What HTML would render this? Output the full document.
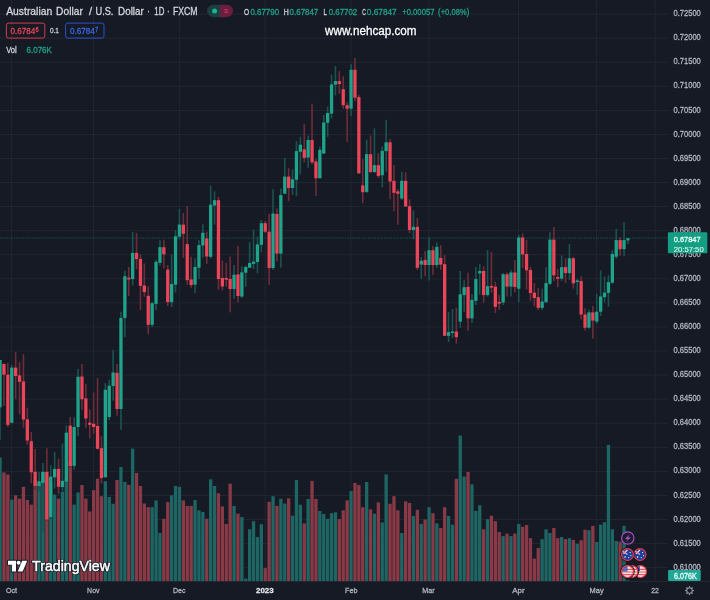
<!DOCTYPE html>
<html lang="en"><head><meta charset="utf-8"><title>AUDUSD 1D FXCM</title>
<style>
html,body{margin:0;padding:0;background:#161a25;}
body{width:710px;height:600px;overflow:hidden;position:relative;font-family:"Liberation Sans",Arial,sans-serif;}
.lay{position:absolute;left:0;top:0;display:block;will-change:transform;}
text{white-space:pre;}
.soft{filter:blur(0.35px);}
</style></head><body>
<svg class="lay soft" width="710" height="600" viewBox="0 0 710 600"><rect x="0" y="13.7" width="668" height="0.8" fill="#242834"/>
<rect x="0" y="37.77" width="668" height="0.8" fill="#242834"/>
<rect x="0" y="61.83" width="668" height="0.8" fill="#242834"/>
<rect x="0" y="85.89" width="668" height="0.8" fill="#242834"/>
<rect x="0" y="109.96" width="668" height="0.8" fill="#242834"/>
<rect x="0" y="134.03" width="668" height="0.8" fill="#242834"/>
<rect x="0" y="158.09" width="668" height="0.8" fill="#242834"/>
<rect x="0" y="182.16" width="668" height="0.8" fill="#242834"/>
<rect x="0" y="206.22" width="668" height="0.8" fill="#242834"/>
<rect x="0" y="230.28" width="668" height="0.8" fill="#242834"/>
<rect x="0" y="254.35" width="668" height="0.8" fill="#242834"/>
<rect x="0" y="278.42" width="668" height="0.8" fill="#242834"/>
<rect x="0" y="302.48" width="668" height="0.8" fill="#242834"/>
<rect x="0" y="326.55" width="668" height="0.8" fill="#242834"/>
<rect x="0" y="350.61" width="668" height="0.8" fill="#242834"/>
<rect x="0" y="374.68" width="668" height="0.8" fill="#242834"/>
<rect x="0" y="398.74" width="668" height="0.8" fill="#242834"/>
<rect x="0" y="422.81" width="668" height="0.8" fill="#242834"/>
<rect x="0" y="446.87" width="668" height="0.8" fill="#242834"/>
<rect x="0" y="470.94" width="668" height="0.8" fill="#242834"/>
<rect x="0" y="495" width="668" height="0.8" fill="#242834"/>
<rect x="0" y="519.07" width="668" height="0.8" fill="#242834"/>
<rect x="0" y="543.13" width="668" height="0.8" fill="#242834"/>
<rect x="0" y="567.2" width="668" height="0.8" fill="#242834"/>
<rect x="11.25" y="0" width="0.8" height="581" fill="#242834"/>
<rect x="93.15" y="0" width="0.8" height="581" fill="#242834"/>
<rect x="178.95" y="0" width="0.8" height="581" fill="#242834"/>
<rect x="264.75" y="0" width="0.8" height="581" fill="#242834"/>
<rect x="350.55" y="0" width="0.8" height="581" fill="#242834"/>
<rect x="428.55" y="0" width="0.8" height="581" fill="#242834"/>
<rect x="518.25" y="0" width="0.8" height="581" fill="#242834"/>
<rect x="596.25" y="0" width="0.8" height="581" fill="#242834"/>
<rect x="654.75" y="0" width="0.8" height="581" fill="#242834"/>
<rect x="0" y="580.9" width="710" height="0.9" fill="#262a35"/>
<g><rect x="-1.6" y="457.5" width="3.3" height="123.5" fill="#1d6663"/><rect x="2.3" y="472.4" width="3.3" height="108.6" fill="#8a3a46"/><rect x="6.2" y="474.5" width="3.3" height="106.5" fill="#8a3a46"/><rect x="10.1" y="499.6" width="3.3" height="81.4" fill="#1d6663"/><rect x="14" y="495.3" width="3.3" height="85.7" fill="#8a3a46"/><rect x="17.9" y="498.7" width="3.3" height="82.3" fill="#8a3a46"/><rect x="21.8" y="486.8" width="3.3" height="94.2" fill="#8a3a46"/><rect x="25.7" y="500" width="3.3" height="81" fill="#8a3a46"/><rect x="29.6" y="504.7" width="3.3" height="76.3" fill="#8a3a46"/><rect x="33.5" y="480" width="3.3" height="101" fill="#8a3a46"/><rect x="37.4" y="484" width="3.3" height="97" fill="#1d6663"/><rect x="41.3" y="472" width="3.3" height="109" fill="#1d6663"/><rect x="45.2" y="478" width="3.3" height="103" fill="#8a3a46"/><rect x="49.1" y="482" width="3.3" height="99" fill="#1d6663"/><rect x="53" y="494.6" width="3.3" height="86.4" fill="#1d6663"/><rect x="56.9" y="498.6" width="3.3" height="82.4" fill="#8a3a46"/><rect x="60.8" y="491.8" width="3.3" height="89.2" fill="#1d6663"/><rect x="64.7" y="478" width="3.3" height="103" fill="#1d6663"/><rect x="68.6" y="462" width="3.3" height="119" fill="#8a3a46"/><rect x="72.5" y="504.7" width="3.3" height="76.3" fill="#1d6663"/><rect x="76.4" y="492.5" width="3.3" height="88.5" fill="#1d6663"/><rect x="80.3" y="485" width="3.3" height="96" fill="#8a3a46"/><rect x="84.2" y="498.7" width="3.3" height="82.3" fill="#8a3a46"/><rect x="88.1" y="511.5" width="3.3" height="69.5" fill="#8a3a46"/><rect x="92" y="490.2" width="3.3" height="90.8" fill="#8a3a46"/><rect x="95.9" y="478.7" width="3.3" height="102.3" fill="#8a3a46"/><rect x="99.8" y="496.2" width="3.3" height="84.8" fill="#8a3a46"/><rect x="103.7" y="481.2" width="3.3" height="99.8" fill="#1d6663"/><rect x="107.6" y="497" width="3.3" height="84" fill="#1d6663"/><rect x="111.5" y="503.8" width="3.3" height="77.2" fill="#1d6663"/><rect x="115.4" y="480" width="3.3" height="101" fill="#8a3a46"/><rect x="119.3" y="467" width="3.3" height="114" fill="#1d6663"/><rect x="123.2" y="482" width="3.3" height="99" fill="#1d6663"/><rect x="127.1" y="484.8" width="3.3" height="96.2" fill="#8a3a46"/><rect x="131" y="448.6" width="3.3" height="132.4" fill="#1d6663"/><rect x="134.9" y="473" width="3.3" height="108" fill="#8a3a46"/><rect x="138.8" y="486" width="3.3" height="95" fill="#8a3a46"/><rect x="142.7" y="503.5" width="3.3" height="77.5" fill="#8a3a46"/><rect x="146.6" y="507.2" width="3.3" height="73.8" fill="#8a3a46"/><rect x="150.5" y="507.2" width="3.3" height="73.8" fill="#1d6663"/><rect x="154.4" y="500.4" width="3.3" height="80.6" fill="#1d6663"/><rect x="158.3" y="533" width="3.3" height="48" fill="#1d6663"/><rect x="162.2" y="518.8" width="3.3" height="62.2" fill="#8a3a46"/><rect x="166.1" y="502.1" width="3.3" height="78.9" fill="#8a3a46"/><rect x="170" y="495.3" width="3.3" height="85.7" fill="#1d6663"/><rect x="173.9" y="486" width="3.3" height="95" fill="#1d6663"/><rect x="177.8" y="486.8" width="3.3" height="94.2" fill="#1d6663"/><rect x="181.7" y="500.4" width="3.3" height="80.6" fill="#8a3a46"/><rect x="185.6" y="505.9" width="3.3" height="75.1" fill="#8a3a46"/><rect x="189.5" y="505.9" width="3.3" height="75.1" fill="#8a3a46"/><rect x="193.4" y="500" width="3.3" height="81" fill="#1d6663"/><rect x="197.3" y="510.3" width="3.3" height="70.7" fill="#1d6663"/><rect x="201.2" y="512" width="3.3" height="69" fill="#1d6663"/><rect x="205.1" y="518.8" width="3.3" height="62.2" fill="#8a3a46"/><rect x="209" y="479.3" width="3.3" height="101.7" fill="#1d6663"/><rect x="212.9" y="486" width="3.3" height="95" fill="#1d6663"/><rect x="216.8" y="493.3" width="3.3" height="87.7" fill="#8a3a46"/><rect x="220.7" y="506.4" width="3.3" height="74.6" fill="#8a3a46"/><rect x="224.6" y="523.9" width="3.3" height="57.1" fill="#8a3a46"/><rect x="228.5" y="483.7" width="3.3" height="97.3" fill="#8a3a46"/><rect x="232.4" y="505.9" width="3.3" height="75.1" fill="#1d6663"/><rect x="236.3" y="513.7" width="3.3" height="67.3" fill="#8a3a46"/><rect x="240.2" y="517.1" width="3.3" height="63.9" fill="#1d6663"/><rect x="244.1" y="578.6" width="3.3" height="2.4" fill="#1d6663"/><rect x="248" y="529.3" width="3.3" height="51.7" fill="#1d6663"/><rect x="251.9" y="521.2" width="3.3" height="59.8" fill="#1d6663"/><rect x="255.8" y="537" width="3.3" height="44" fill="#1d6663"/><rect x="259.7" y="524.2" width="3.3" height="56.8" fill="#1d6663"/><rect x="263.6" y="568.1" width="3.3" height="12.9" fill="#8a3a46"/><rect x="267.5" y="501.8" width="3.3" height="79.2" fill="#8a3a46"/><rect x="271.4" y="496.2" width="3.3" height="84.8" fill="#1d6663"/><rect x="275.3" y="505.9" width="3.3" height="75.1" fill="#8a3a46"/><rect x="279.2" y="498.7" width="3.3" height="82.3" fill="#1d6663"/><rect x="283.1" y="503.5" width="3.3" height="77.5" fill="#1d6663"/><rect x="287" y="498.4" width="3.3" height="82.6" fill="#8a3a46"/><rect x="290.9" y="515.7" width="3.3" height="65.3" fill="#1d6663"/><rect x="294.8" y="480" width="3.3" height="101" fill="#1d6663"/><rect x="298.7" y="504.7" width="3.3" height="76.3" fill="#1d6663"/><rect x="302.6" y="523.4" width="3.3" height="57.6" fill="#8a3a46"/><rect x="306.5" y="499" width="3.3" height="82" fill="#1d6663"/><rect x="310.4" y="480.9" width="3.3" height="100.1" fill="#8a3a46"/><rect x="314.3" y="499" width="3.3" height="82" fill="#8a3a46"/><rect x="318.2" y="511" width="3.3" height="70" fill="#1d6663"/><rect x="322.1" y="514" width="3.3" height="67" fill="#1d6663"/><rect x="326" y="518.8" width="3.3" height="62.2" fill="#1d6663"/><rect x="329.9" y="513.2" width="3.3" height="67.8" fill="#1d6663"/><rect x="333.8" y="512.3" width="3.3" height="68.7" fill="#1d6663"/><rect x="337.7" y="519.1" width="3.3" height="61.9" fill="#8a3a46"/><rect x="341.6" y="510.3" width="3.3" height="70.7" fill="#8a3a46"/><rect x="345.5" y="500.4" width="3.3" height="80.6" fill="#8a3a46"/><rect x="349.4" y="491" width="3.3" height="90" fill="#1d6663"/><rect x="353.3" y="483" width="3.3" height="98" fill="#8a3a46"/><rect x="357.2" y="485.1" width="3.3" height="95.9" fill="#8a3a46"/><rect x="361.1" y="507.2" width="3.3" height="73.8" fill="#8a3a46"/><rect x="365" y="482" width="3.3" height="99" fill="#1d6663"/><rect x="368.9" y="509.3" width="3.3" height="71.7" fill="#8a3a46"/><rect x="372.8" y="513.7" width="3.3" height="67.3" fill="#1d6663"/><rect x="376.7" y="502.4" width="3.3" height="78.6" fill="#8a3a46"/><rect x="380.6" y="522.5" width="3.3" height="58.5" fill="#1d6663"/><rect x="384.5" y="474.4" width="3.3" height="106.6" fill="#1d6663"/><rect x="388.4" y="503.8" width="3.3" height="77.2" fill="#8a3a46"/><rect x="392.3" y="496.2" width="3.3" height="84.8" fill="#8a3a46"/><rect x="396.2" y="510.3" width="3.3" height="70.7" fill="#8a3a46"/><rect x="400.1" y="533" width="3.3" height="48" fill="#1d6663"/><rect x="404" y="501.3" width="3.3" height="79.7" fill="#8a3a46"/><rect x="407.9" y="503" width="3.3" height="78" fill="#8a3a46"/><rect x="411.8" y="516" width="3.3" height="65" fill="#1d6663"/><rect x="415.7" y="509.8" width="3.3" height="71.2" fill="#8a3a46"/><rect x="419.6" y="523.9" width="3.3" height="57.1" fill="#1d6663"/><rect x="423.5" y="519.5" width="3.3" height="61.5" fill="#8a3a46"/><rect x="427.4" y="507.2" width="3.3" height="73.8" fill="#1d6663"/><rect x="431.3" y="513.2" width="3.3" height="67.8" fill="#8a3a46"/><rect x="435.2" y="523.4" width="3.3" height="57.6" fill="#1d6663"/><rect x="439.1" y="528" width="3.3" height="53" fill="#8a3a46"/><rect x="443" y="507.2" width="3.3" height="73.8" fill="#8a3a46"/><rect x="446.9" y="516" width="3.3" height="65" fill="#1d6663"/><rect x="450.8" y="524.6" width="3.3" height="56.4" fill="#1d6663"/><rect x="454.7" y="478.8" width="3.3" height="102.2" fill="#8a3a46"/><rect x="458.6" y="435.5" width="3.3" height="145.5" fill="#1d6663"/><rect x="462.5" y="476.6" width="3.3" height="104.4" fill="#1d6663"/><rect x="466.4" y="472" width="3.3" height="109" fill="#8a3a46"/><rect x="470.3" y="484.3" width="3.3" height="96.7" fill="#1d6663"/><rect x="474.2" y="511" width="3.3" height="70" fill="#1d6663"/><rect x="478.1" y="505.2" width="3.3" height="75.8" fill="#1d6663"/><rect x="482" y="529.3" width="3.3" height="51.7" fill="#8a3a46"/><rect x="485.9" y="519.1" width="3.3" height="61.9" fill="#1d6663"/><rect x="489.8" y="515.7" width="3.3" height="65.3" fill="#8a3a46"/><rect x="493.7" y="521.2" width="3.3" height="59.8" fill="#8a3a46"/><rect x="497.6" y="531.9" width="3.3" height="49.1" fill="#8a3a46"/><rect x="501.5" y="536.1" width="3.3" height="44.9" fill="#1d6663"/><rect x="505.4" y="533.6" width="3.3" height="47.4" fill="#8a3a46"/><rect x="509.3" y="536.1" width="3.3" height="44.9" fill="#1d6663"/><rect x="513.2" y="533.6" width="3.3" height="47.4" fill="#8a3a46"/><rect x="517.1" y="523.9" width="3.3" height="57.1" fill="#1d6663"/><rect x="521" y="526.8" width="3.3" height="54.2" fill="#8a3a46"/><rect x="524.9" y="525" width="3.3" height="56" fill="#8a3a46"/><rect x="528.8" y="538.2" width="3.3" height="42.8" fill="#8a3a46"/><rect x="532.7" y="558.6" width="3.3" height="22.4" fill="#8a3a46"/><rect x="536.6" y="548" width="3.3" height="33" fill="#8a3a46"/><rect x="540.5" y="539.2" width="3.3" height="41.8" fill="#1d6663"/><rect x="544.4" y="529.3" width="3.3" height="51.7" fill="#1d6663"/><rect x="548.3" y="533" width="3.3" height="48" fill="#1d6663"/><rect x="552.2" y="528" width="3.3" height="53" fill="#8a3a46"/><rect x="556.1" y="538.2" width="3.3" height="42.8" fill="#8a3a46"/><rect x="560" y="537" width="3.3" height="44" fill="#1d6663"/><rect x="563.9" y="539.2" width="3.3" height="41.8" fill="#8a3a46"/><rect x="567.8" y="538.2" width="3.3" height="42.8" fill="#1d6663"/><rect x="571.7" y="539.9" width="3.3" height="41.1" fill="#8a3a46"/><rect x="575.6" y="543.8" width="3.3" height="37.2" fill="#1d6663"/><rect x="579.5" y="540.2" width="3.3" height="40.8" fill="#8a3a46"/><rect x="583.4" y="529.7" width="3.3" height="51.3" fill="#8a3a46"/><rect x="587.3" y="530.2" width="3.3" height="50.8" fill="#1d6663"/><rect x="591.2" y="525.9" width="3.3" height="55.1" fill="#8a3a46"/><rect x="595.1" y="542" width="3.3" height="39" fill="#1d6663"/><rect x="599" y="524.6" width="3.3" height="56.4" fill="#1d6663"/><rect x="602.9" y="522.2" width="3.3" height="58.8" fill="#1d6663"/><rect x="606.8" y="444.9" width="3.3" height="136.1" fill="#1d6663"/><rect x="610.7" y="529.3" width="3.3" height="51.7" fill="#1d6663"/><rect x="614.6" y="540.9" width="3.3" height="40.1" fill="#1d6663"/><rect x="618.5" y="541.6" width="3.3" height="39.4" fill="#8a3a46"/><rect x="622.4" y="525.9" width="3.3" height="55.1" fill="#1d6663"/><rect x="626.3" y="580.3" width="3.3" height="0.7" fill="#1d6663"/></g>
<line x1="0" y1="238" x2="668" y2="238" stroke="#1fa38b" stroke-width="0.9" stroke-dasharray="0.75 1.02" opacity="0.6"/>
<g><rect x="-0.75" y="359.8" width="1.6" height="80" fill="#1a5450"/><rect x="3.15" y="363.4" width="1.6" height="42.5" fill="#6f2c3a"/><rect x="7.05" y="362.7" width="1.6" height="64.3" fill="#6f2c3a"/><rect x="10.95" y="364.8" width="1.6" height="58.7" fill="#1a5450"/><rect x="14.85" y="352" width="1.6" height="46.8" fill="#6f2c3a"/><rect x="18.75" y="362" width="1.6" height="52.4" fill="#6f2c3a"/><rect x="22.65" y="354.2" width="1.6" height="73.5" fill="#6f2c3a"/><rect x="26.55" y="407.7" width="1.6" height="37" fill="#6f2c3a"/><rect x="30.45" y="432" width="1.6" height="51.2" fill="#6f2c3a"/><rect x="34.35" y="449" width="1.6" height="41" fill="#6f2c3a"/><rect x="38.25" y="471.9" width="1.6" height="20.1" fill="#1a5450"/><rect x="42.15" y="463" width="1.6" height="69.7" fill="#1a5450"/><rect x="46.05" y="448.3" width="1.6" height="72.7" fill="#6f2c3a"/><rect x="49.95" y="465.3" width="1.6" height="53.7" fill="#1a5450"/><rect x="53.85" y="451.8" width="1.6" height="36.8" fill="#1a5450"/><rect x="57.75" y="458.8" width="1.6" height="35.5" fill="#6f2c3a"/><rect x="61.65" y="443.3" width="1.6" height="48.2" fill="#1a5450"/><rect x="65.55" y="425.6" width="1.6" height="57.4" fill="#1a5450"/><rect x="69.45" y="416.9" width="1.6" height="51.1" fill="#6f2c3a"/><rect x="73.35" y="417.2" width="1.6" height="52.4" fill="#1a5450"/><rect x="77.25" y="369" width="1.6" height="67.2" fill="#1a5450"/><rect x="81.15" y="364.1" width="1.6" height="46" fill="#6f2c3a"/><rect x="85.05" y="383.9" width="1.6" height="43.8" fill="#6f2c3a"/><rect x="88.95" y="409.4" width="1.6" height="29" fill="#6f2c3a"/><rect x="92.85" y="392.4" width="1.6" height="41.6" fill="#6f2c3a"/><rect x="96.75" y="378.1" width="1.6" height="71.4" fill="#6f2c3a"/><rect x="100.65" y="436.2" width="1.6" height="47.4" fill="#6f2c3a"/><rect x="104.55" y="383.1" width="1.6" height="94.9" fill="#1a5450"/><rect x="108.45" y="379.6" width="1.6" height="40.3" fill="#1a5450"/><rect x="112.35" y="349.8" width="1.6" height="51" fill="#1a5450"/><rect x="116.25" y="364" width="1.6" height="51.6" fill="#6f2c3a"/><rect x="120.15" y="311.7" width="1.6" height="118.1" fill="#1a5450"/><rect x="124.05" y="270.6" width="1.6" height="66.5" fill="#1a5450"/><rect x="127.95" y="267" width="1.6" height="29.1" fill="#6f2c3a"/><rect x="131.85" y="231.7" width="1.6" height="53.8" fill="#1a5450"/><rect x="135.75" y="233.1" width="1.6" height="36.1" fill="#6f2c3a"/><rect x="139.65" y="254.3" width="1.6" height="55.9" fill="#6f2c3a"/><rect x="143.55" y="263.5" width="1.6" height="33.3" fill="#6f2c3a"/><rect x="147.45" y="286.2" width="1.6" height="48.1" fill="#6f2c3a"/><rect x="151.35" y="301.7" width="1.6" height="25.5" fill="#1a5450"/><rect x="155.25" y="260" width="1.6" height="50.2" fill="#1a5450"/><rect x="159.15" y="240.2" width="1.6" height="25.4" fill="#1a5450"/><rect x="163.05" y="240.2" width="1.6" height="28.3" fill="#6f2c3a"/><rect x="166.95" y="264.9" width="1.6" height="41.1" fill="#6f2c3a"/><rect x="170.85" y="254.3" width="1.6" height="52.8" fill="#1a5450"/><rect x="174.75" y="230.2" width="1.6" height="62.3" fill="#1a5450"/><rect x="178.65" y="209" width="1.6" height="30.4" fill="#1a5450"/><rect x="182.55" y="213" width="1.6" height="44.8" fill="#6f2c3a"/><rect x="186.45" y="206.2" width="1.6" height="78.5" fill="#6f2c3a"/><rect x="190.35" y="256.8" width="1.6" height="31.1" fill="#6f2c3a"/><rect x="194.25" y="258.2" width="1.6" height="35" fill="#1a5450"/><rect x="198.15" y="240.2" width="1.6" height="38.9" fill="#1a5450"/><rect x="202.05" y="224.3" width="1.6" height="33.5" fill="#1a5450"/><rect x="205.95" y="231.7" width="1.6" height="32.1" fill="#6f2c3a"/><rect x="209.85" y="185.6" width="1.6" height="72.9" fill="#1a5450"/><rect x="213.75" y="191.3" width="1.6" height="33.3" fill="#1a5450"/><rect x="217.65" y="197" width="1.6" height="92.7" fill="#6f2c3a"/><rect x="221.55" y="260.6" width="1.6" height="29.8" fill="#6f2c3a"/><rect x="225.45" y="262.7" width="1.6" height="24.1" fill="#6f2c3a"/><rect x="229.35" y="256.4" width="1.6" height="55.9" fill="#6f2c3a"/><rect x="233.25" y="264.9" width="1.6" height="34" fill="#1a5450"/><rect x="237.15" y="245.8" width="1.6" height="56.6" fill="#6f2c3a"/><rect x="241.05" y="266.3" width="1.6" height="31.6" fill="#1a5450"/><rect x="244.95" y="265.6" width="1.6" height="21.2" fill="#1a5450"/><rect x="248.85" y="241.9" width="1.6" height="26.1" fill="#1a5450"/><rect x="252.75" y="229.5" width="1.6" height="39.6" fill="#1a5450"/><rect x="256.65" y="236.6" width="1.6" height="36.8" fill="#1a5450"/><rect x="260.55" y="220" width="1.6" height="32.2" fill="#1a5450"/><rect x="264.45" y="221" width="1.6" height="12" fill="#6f2c3a"/><rect x="268.35" y="214" width="1.6" height="70.7" fill="#6f2c3a"/><rect x="272.25" y="189.2" width="1.6" height="80.6" fill="#1a5450"/><rect x="276.15" y="208.3" width="1.6" height="53" fill="#6f2c3a"/><rect x="280.05" y="188.5" width="1.6" height="79.2" fill="#1a5450"/><rect x="283.95" y="158.2" width="1.6" height="35.8" fill="#1a5450"/><rect x="287.85" y="168.1" width="1.6" height="33.1" fill="#6f2c3a"/><rect x="291.75" y="169.5" width="1.6" height="25.3" fill="#1a5450"/><rect x="295.65" y="141.2" width="1.6" height="55" fill="#1a5450"/><rect x="299.55" y="136.9" width="1.6" height="37.5" fill="#1a5450"/><rect x="303.45" y="124.2" width="1.6" height="38.2" fill="#6f2c3a"/><rect x="307.35" y="135.5" width="1.6" height="32.3" fill="#1a5450"/><rect x="311.25" y="103.8" width="1.6" height="60.7" fill="#6f2c3a"/><rect x="315.15" y="158.9" width="1.6" height="37" fill="#6f2c3a"/><rect x="319.05" y="146.5" width="1.6" height="32.1" fill="#1a5450"/><rect x="322.95" y="115" width="1.6" height="39" fill="#1a5450"/><rect x="326.85" y="106.6" width="1.6" height="30.3" fill="#1a5450"/><rect x="330.75" y="74.7" width="1.6" height="43.8" fill="#1a5450"/><rect x="334.65" y="66" width="1.6" height="29.3" fill="#1a5450"/><rect x="338.55" y="71.2" width="1.6" height="22.7" fill="#6f2c3a"/><rect x="342.45" y="76.2" width="1.6" height="32.5" fill="#6f2c3a"/><rect x="346.35" y="102.4" width="1.6" height="39.5" fill="#6f2c3a"/><rect x="350.25" y="64.1" width="1.6" height="51.9" fill="#1a5450"/><rect x="354.15" y="58" width="1.6" height="43" fill="#6f2c3a"/><rect x="358.05" y="94.6" width="1.6" height="79.4" fill="#6f2c3a"/><rect x="361.95" y="159" width="1.6" height="44.3" fill="#6f2c3a"/><rect x="365.85" y="139.7" width="1.6" height="53.3" fill="#1a5450"/><rect x="369.75" y="135.5" width="1.6" height="37.5" fill="#6f2c3a"/><rect x="373.65" y="128.4" width="1.6" height="44.6" fill="#1a5450"/><rect x="377.55" y="153.2" width="1.6" height="24.8" fill="#6f2c3a"/><rect x="381.45" y="146.5" width="1.6" height="40.7" fill="#1a5450"/><rect x="385.35" y="119.9" width="1.6" height="51.7" fill="#1a5450"/><rect x="389.25" y="139" width="1.6" height="60.2" fill="#6f2c3a"/><rect x="393.15" y="165" width="1.6" height="46.2" fill="#6f2c3a"/><rect x="397.05" y="189.2" width="1.6" height="35.5" fill="#6f2c3a"/><rect x="400.95" y="172" width="1.6" height="27.9" fill="#1a5450"/><rect x="404.85" y="172.3" width="1.6" height="34.7" fill="#6f2c3a"/><rect x="408.75" y="199.2" width="1.6" height="34" fill="#6f2c3a"/><rect x="412.65" y="210.2" width="1.6" height="28.9" fill="#1a5450"/><rect x="416.55" y="218.3" width="1.6" height="51.6" fill="#6f2c3a"/><rect x="420.45" y="257.2" width="1.6" height="21.9" fill="#1a5450"/><rect x="424.35" y="250.9" width="1.6" height="25.4" fill="#6f2c3a"/><rect x="428.25" y="237.4" width="1.6" height="43.1" fill="#1a5450"/><rect x="432.15" y="245.9" width="1.6" height="29" fill="#6f2c3a"/><rect x="436.05" y="242.4" width="1.6" height="25.4" fill="#1a5450"/><rect x="439.95" y="245.2" width="1.6" height="24.7" fill="#6f2c3a"/><rect x="443.85" y="255.1" width="1.6" height="80.9" fill="#6f2c3a"/><rect x="447.75" y="312.1" width="1.6" height="30.1" fill="#1a5450"/><rect x="451.65" y="308.9" width="1.6" height="29" fill="#1a5450"/><rect x="455.55" y="307.9" width="1.6" height="35.7" fill="#6f2c3a"/><rect x="459.45" y="271" width="1.6" height="56.7" fill="#1a5450"/><rect x="463.35" y="280.1" width="1.6" height="31.6" fill="#1a5450"/><rect x="467.25" y="272.7" width="1.6" height="58.1" fill="#6f2c3a"/><rect x="471.15" y="294" width="1.6" height="29" fill="#1a5450"/><rect x="475.05" y="267.1" width="1.6" height="37.9" fill="#1a5450"/><rect x="478.95" y="264.2" width="1.6" height="30.5" fill="#1a5450"/><rect x="482.85" y="266.2" width="1.6" height="36.3" fill="#6f2c3a"/><rect x="486.75" y="250.2" width="1.6" height="46.4" fill="#1a5450"/><rect x="490.65" y="251.9" width="1.6" height="40.9" fill="#6f2c3a"/><rect x="494.55" y="281.6" width="1.6" height="31.4" fill="#6f2c3a"/><rect x="498.45" y="295.1" width="1.6" height="14.9" fill="#6f2c3a"/><rect x="502.35" y="273" width="1.6" height="32" fill="#1a5450"/><rect x="506.25" y="272.5" width="1.6" height="24" fill="#6f2c3a"/><rect x="510.15" y="270" width="1.6" height="26.5" fill="#1a5450"/><rect x="514.05" y="260.1" width="1.6" height="32.2" fill="#6f2c3a"/><rect x="517.95" y="234.9" width="1.6" height="67.3" fill="#1a5450"/><rect x="521.85" y="233.5" width="1.6" height="34.7" fill="#6f2c3a"/><rect x="525.75" y="239.9" width="1.6" height="49.5" fill="#6f2c3a"/><rect x="529.65" y="266.8" width="1.6" height="34" fill="#6f2c3a"/><rect x="533.55" y="283.1" width="1.6" height="23.3" fill="#6f2c3a"/><rect x="537.45" y="288" width="1.6" height="22" fill="#6f2c3a"/><rect x="541.35" y="288.7" width="1.6" height="21.3" fill="#1a5450"/><rect x="545.25" y="267.2" width="1.6" height="35.8" fill="#1a5450"/><rect x="549.15" y="232.1" width="1.6" height="53.1" fill="#1a5450"/><rect x="553.05" y="227.1" width="1.6" height="53.9" fill="#6f2c3a"/><rect x="556.95" y="268.9" width="1.6" height="18.4" fill="#6f2c3a"/><rect x="560.85" y="255.5" width="1.6" height="25.5" fill="#1a5450"/><rect x="564.75" y="258.3" width="1.6" height="24.7" fill="#6f2c3a"/><rect x="568.65" y="244.1" width="1.6" height="35.8" fill="#1a5450"/><rect x="572.55" y="256.9" width="1.6" height="31.6" fill="#6f2c3a"/><rect x="576.45" y="278.6" width="1.6" height="16.3" fill="#1a5450"/><rect x="580.35" y="276.3" width="1.6" height="43.2" fill="#6f2c3a"/><rect x="584.25" y="308.2" width="1.6" height="22.3" fill="#6f2c3a"/><rect x="588.15" y="309.6" width="1.6" height="19.1" fill="#1a5450"/><rect x="592.05" y="306" width="1.6" height="32.6" fill="#6f2c3a"/><rect x="595.95" y="293.7" width="1.6" height="30" fill="#1a5450"/><rect x="599.85" y="270.4" width="1.6" height="45.6" fill="#1a5450"/><rect x="603.75" y="276.6" width="1.6" height="25.9" fill="#1a5450"/><rect x="607.65" y="275.2" width="1.6" height="31.5" fill="#1a5450"/><rect x="611.55" y="250.3" width="1.6" height="33.7" fill="#1a5450"/><rect x="615.45" y="228.8" width="1.6" height="30" fill="#1a5450"/><rect x="619.35" y="237.3" width="1.6" height="18.4" fill="#6f2c3a"/><rect x="623.25" y="222" width="1.6" height="34.3" fill="#1a5450"/><rect x="627.15" y="238" width="1.6" height="6" fill="#1a5450"/></g>
<g><rect x="-1.6" y="360" width="3.3" height="47.3" fill="#1fa38b"/><rect x="2.3" y="364" width="3.3" height="10.7" fill="#ea4558"/><rect x="6.2" y="374.7" width="3.3" height="50.2" fill="#ea4558"/><rect x="10.1" y="367.6" width="3.3" height="55.2" fill="#1fa38b"/><rect x="14" y="367.6" width="3.3" height="8.5" fill="#ea4558"/><rect x="17.9" y="375.4" width="3.3" height="6.4" fill="#ea4558"/><rect x="21.8" y="381.5" width="3.3" height="38" fill="#ea4558"/><rect x="25.7" y="419.3" width="3.3" height="21.2" fill="#ea4558"/><rect x="29.6" y="441.2" width="3.3" height="31.1" fill="#ea4558"/><rect x="33.5" y="471.8" width="3.3" height="14.1" fill="#ea4558"/><rect x="37.4" y="481.2" width="3.3" height="4.7" fill="#1fa38b"/><rect x="41.3" y="471.9" width="3.3" height="11" fill="#1fa38b"/><rect x="45.2" y="471.8" width="3.3" height="47.7" fill="#ea4558"/><rect x="49.1" y="476.6" width="3.3" height="40.4" fill="#1fa38b"/><rect x="53" y="468.9" width="3.3" height="8.4" fill="#1fa38b"/><rect x="56.9" y="468.9" width="3.3" height="17.9" fill="#ea4558"/><rect x="60.8" y="480.8" width="3.3" height="6.3" fill="#1fa38b"/><rect x="64.7" y="432.7" width="3.3" height="49.1" fill="#1fa38b"/><rect x="68.6" y="425.6" width="3.3" height="40.4" fill="#ea4558"/><rect x="72.5" y="427" width="3.3" height="38.8" fill="#1fa38b"/><rect x="76.4" y="376.8" width="3.3" height="50.2" fill="#1fa38b"/><rect x="80.3" y="376.5" width="3.3" height="22.7" fill="#ea4558"/><rect x="84.2" y="398.4" width="3.3" height="20.1" fill="#ea4558"/><rect x="88.1" y="422.7" width="3.3" height="2.1" fill="#ea4558"/><rect x="92" y="423.8" width="3.3" height="3.2" fill="#ea4558"/><rect x="95.9" y="426" width="3.3" height="22.8" fill="#ea4558"/><rect x="99.8" y="448.2" width="3.3" height="29.8" fill="#ea4558"/><rect x="103.7" y="389.8" width="3.3" height="87.4" fill="#1fa38b"/><rect x="107.6" y="385.7" width="3.3" height="31.3" fill="#1fa38b"/><rect x="111.5" y="372.5" width="3.3" height="13.5" fill="#1fa38b"/><rect x="115.4" y="372.9" width="3.3" height="36.1" fill="#ea4558"/><rect x="119.3" y="318" width="3.3" height="91" fill="#1fa38b"/><rect x="123.2" y="276.2" width="3.3" height="41.8" fill="#1fa38b"/><rect x="127.1" y="277.7" width="3.3" height="1.7" fill="#ea4558"/><rect x="131" y="252.9" width="3.3" height="26.2" fill="#1fa38b"/><rect x="134.9" y="252.9" width="3.3" height="6.1" fill="#ea4558"/><rect x="138.8" y="258.9" width="3.3" height="27" fill="#ea4558"/><rect x="142.7" y="285.5" width="3.3" height="6.6" fill="#ea4558"/><rect x="146.6" y="295.8" width="3.3" height="29" fill="#ea4558"/><rect x="150.5" y="303.2" width="3.3" height="21.6" fill="#1fa38b"/><rect x="154.4" y="261.8" width="3.3" height="42.1" fill="#1fa38b"/><rect x="158.3" y="247.2" width="3.3" height="15.6" fill="#1fa38b"/><rect x="162.2" y="247.2" width="3.3" height="7.1" fill="#ea4558"/><rect x="166.1" y="269.6" width="3.3" height="32.6" fill="#ea4558"/><rect x="170" y="284" width="3.3" height="18.2" fill="#1fa38b"/><rect x="173.9" y="236.2" width="3.3" height="48.5" fill="#1fa38b"/><rect x="177.8" y="224.6" width="3.3" height="12" fill="#1fa38b"/><rect x="181.7" y="224.6" width="3.3" height="9.2" fill="#ea4558"/><rect x="185.6" y="244.1" width="3.3" height="36.1" fill="#ea4558"/><rect x="189.5" y="279.4" width="3.3" height="5.6" fill="#ea4558"/><rect x="193.4" y="267" width="3.3" height="17.7" fill="#1fa38b"/><rect x="197.3" y="245.1" width="3.3" height="22.6" fill="#1fa38b"/><rect x="201.2" y="232.8" width="3.3" height="12.7" fill="#1fa38b"/><rect x="205.1" y="238.5" width="3.3" height="18" fill="#ea4558"/><rect x="209" y="204.7" width="3.3" height="52.1" fill="#1fa38b"/><rect x="212.9" y="200.2" width="3.3" height="5.3" fill="#1fa38b"/><rect x="216.8" y="200.2" width="3.3" height="78.8" fill="#ea4558"/><rect x="220.7" y="278" width="3.3" height="8.5" fill="#ea4558"/><rect x="224.6" y="278" width="3.3" height="1.7" fill="#ea4558"/><rect x="228.5" y="279" width="3.3" height="10" fill="#ea4558"/><rect x="232.4" y="274.8" width="3.3" height="14.2" fill="#1fa38b"/><rect x="236.3" y="274.4" width="3.3" height="21.6" fill="#ea4558"/><rect x="240.2" y="272.4" width="3.3" height="24.1" fill="#1fa38b"/><rect x="244.1" y="267" width="3.3" height="5.7" fill="#1fa38b"/><rect x="248" y="263" width="3.3" height="4.7" fill="#1fa38b"/><rect x="251.9" y="261.6" width="3.3" height="2.3" fill="#1fa38b"/><rect x="255.8" y="244.4" width="3.3" height="17.6" fill="#1fa38b"/><rect x="259.7" y="223.2" width="3.3" height="21.6" fill="#1fa38b"/><rect x="263.6" y="223.2" width="3.3" height="8.5" fill="#ea4558"/><rect x="267.5" y="231.7" width="3.3" height="36.3" fill="#ea4558"/><rect x="271.4" y="213.5" width="3.3" height="54.5" fill="#1fa38b"/><rect x="275.3" y="214" width="3.3" height="39.6" fill="#ea4558"/><rect x="279.2" y="195.1" width="3.3" height="58.5" fill="#1fa38b"/><rect x="283.1" y="176.6" width="3.3" height="17.1" fill="#1fa38b"/><rect x="287" y="176.6" width="3.3" height="11.4" fill="#ea4558"/><rect x="290.9" y="179.4" width="3.3" height="8.6" fill="#1fa38b"/><rect x="294.8" y="151.1" width="3.3" height="28.6" fill="#1fa38b"/><rect x="298.7" y="144.7" width="3.3" height="7.1" fill="#1fa38b"/><rect x="302.6" y="149.4" width="3.3" height="8.5" fill="#ea4558"/><rect x="306.5" y="140" width="3.3" height="17.5" fill="#1fa38b"/><rect x="310.4" y="140" width="3.3" height="22.4" fill="#ea4558"/><rect x="314.3" y="161.5" width="3.3" height="16.7" fill="#ea4558"/><rect x="318.2" y="149.9" width="3.3" height="28.3" fill="#1fa38b"/><rect x="322.1" y="122.5" width="3.3" height="31.1" fill="#1fa38b"/><rect x="326" y="113" width="3.3" height="9.8" fill="#1fa38b"/><rect x="329.9" y="84.4" width="3.3" height="29.2" fill="#1fa38b"/><rect x="333.8" y="81.1" width="3.3" height="3.6" fill="#1fa38b"/><rect x="337.7" y="81.1" width="3.3" height="2.9" fill="#ea4558"/><rect x="341.6" y="89.2" width="3.3" height="16" fill="#ea4558"/><rect x="345.5" y="105.2" width="3.3" height="3.5" fill="#ea4558"/><rect x="349.4" y="69.8" width="3.3" height="38.9" fill="#1fa38b"/><rect x="353.3" y="69.8" width="3.3" height="27.9" fill="#ea4558"/><rect x="357.2" y="97.1" width="3.3" height="76.2" fill="#ea4558"/><rect x="361.1" y="185.4" width="3.3" height="6.8" fill="#ea4558"/><rect x="365" y="154.1" width="3.3" height="37.8" fill="#1fa38b"/><rect x="368.9" y="154.2" width="3.3" height="17.8" fill="#ea4558"/><rect x="372.8" y="165.2" width="3.3" height="6.8" fill="#1fa38b"/><rect x="376.7" y="165.2" width="3.3" height="10.7" fill="#ea4558"/><rect x="380.6" y="150.8" width="3.3" height="24.4" fill="#1fa38b"/><rect x="384.5" y="142.3" width="3.3" height="8.8" fill="#1fa38b"/><rect x="388.4" y="142.3" width="3.3" height="39.2" fill="#ea4558"/><rect x="392.3" y="180.8" width="3.3" height="12" fill="#ea4558"/><rect x="396.2" y="191.4" width="3.3" height="2.4" fill="#ea4558"/><rect x="400.1" y="180.8" width="3.3" height="17.7" fill="#1fa38b"/><rect x="404" y="180.8" width="3.3" height="25.7" fill="#ea4558"/><rect x="407.9" y="206.2" width="3.3" height="23.8" fill="#ea4558"/><rect x="411.8" y="226.8" width="3.3" height="3.2" fill="#1fa38b"/><rect x="415.7" y="226.8" width="3.3" height="41" fill="#ea4558"/><rect x="419.6" y="260.8" width="3.3" height="3.8" fill="#1fa38b"/><rect x="423.5" y="260" width="3.3" height="5" fill="#ea4558"/><rect x="427.4" y="250.2" width="3.3" height="14.8" fill="#1fa38b"/><rect x="431.3" y="250.2" width="3.3" height="14.8" fill="#ea4558"/><rect x="435.2" y="246.9" width="3.3" height="18.1" fill="#1fa38b"/><rect x="439.1" y="257.9" width="3.3" height="6.7" fill="#ea4558"/><rect x="443" y="264.2" width="3.3" height="71.6" fill="#ea4558"/><rect x="446.9" y="332.2" width="3.3" height="3.6" fill="#1fa38b"/><rect x="450.8" y="331.5" width="3.3" height="1.5" fill="#1fa38b"/><rect x="454.7" y="331.5" width="3.3" height="5.7" fill="#ea4558"/><rect x="458.6" y="294.3" width="3.3" height="27.3" fill="#1fa38b"/><rect x="462.5" y="287.2" width="3.3" height="7.9" fill="#1fa38b"/><rect x="466.4" y="286.9" width="3.3" height="31.5" fill="#ea4558"/><rect x="470.3" y="299.9" width="3.3" height="18.5" fill="#1fa38b"/><rect x="474.2" y="279.1" width="3.3" height="21.7" fill="#1fa38b"/><rect x="478.1" y="271" width="3.3" height="2.4" fill="#1fa38b"/><rect x="482" y="271" width="3.3" height="24.1" fill="#ea4558"/><rect x="485.9" y="286.2" width="3.3" height="8.9" fill="#1fa38b"/><rect x="489.8" y="285.9" width="3.3" height="1.7" fill="#ea4558"/><rect x="493.7" y="286.7" width="3.3" height="20.1" fill="#ea4558"/><rect x="497.6" y="301.9" width="3.3" height="1.7" fill="#ea4558"/><rect x="501.5" y="274.3" width="3.3" height="28.3" fill="#1fa38b"/><rect x="505.4" y="274.3" width="3.3" height="12.3" fill="#ea4558"/><rect x="509.3" y="272.5" width="3.3" height="14.1" fill="#1fa38b"/><rect x="513.2" y="272.5" width="3.3" height="14.5" fill="#ea4558"/><rect x="517.1" y="237.5" width="3.3" height="51.2" fill="#1fa38b"/><rect x="521" y="237.5" width="3.3" height="17" fill="#ea4558"/><rect x="524.9" y="254" width="3.3" height="16.3" fill="#ea4558"/><rect x="528.8" y="270" width="3.3" height="23" fill="#ea4558"/><rect x="532.7" y="292.7" width="3.3" height="5.3" fill="#ea4558"/><rect x="536.6" y="297.2" width="3.3" height="10.7" fill="#ea4558"/><rect x="540.5" y="301.5" width="3.3" height="6.4" fill="#1fa38b"/><rect x="544.4" y="283.1" width="3.3" height="19.1" fill="#1fa38b"/><rect x="548.3" y="239.6" width="3.3" height="44.2" fill="#1fa38b"/><rect x="552.2" y="239.6" width="3.3" height="35.7" fill="#ea4558"/><rect x="556.1" y="277.1" width="3.3" height="1.7" fill="#ea4558"/><rect x="560" y="267.2" width="3.3" height="11.4" fill="#1fa38b"/><rect x="563.9" y="267.1" width="3.3" height="6" fill="#ea4558"/><rect x="567.8" y="258.3" width="3.3" height="14.8" fill="#1fa38b"/><rect x="571.7" y="258.3" width="3.3" height="25.1" fill="#ea4558"/><rect x="575.6" y="280.4" width="3.3" height="1.6" fill="#1fa38b"/><rect x="579.5" y="281" width="3.3" height="33.5" fill="#ea4558"/><rect x="583.4" y="314.5" width="3.3" height="13.2" fill="#ea4558"/><rect x="587.3" y="312.4" width="3.3" height="15.3" fill="#1fa38b"/><rect x="591.2" y="312.4" width="3.3" height="8.2" fill="#ea4558"/><rect x="595.1" y="311.7" width="3.3" height="9.9" fill="#1fa38b"/><rect x="599" y="296.5" width="3.3" height="15.2" fill="#1fa38b"/><rect x="602.9" y="292.6" width="3.3" height="4.5" fill="#1fa38b"/><rect x="606.8" y="282.1" width="3.3" height="10.8" fill="#1fa38b"/><rect x="610.7" y="253.9" width="3.3" height="28.7" fill="#1fa38b"/><rect x="614.6" y="240.1" width="3.3" height="16.6" fill="#1fa38b"/><rect x="618.5" y="240.1" width="3.3" height="9.1" fill="#ea4558"/><rect x="622.4" y="240.1" width="3.3" height="9.1" fill="#1fa38b"/><rect x="626.3" y="238.2" width="3.3" height="2.2" fill="#1fa38b"/></g></svg>
<svg class="lay" width="710" height="600" viewBox="0 0 710 600" font-family="Liberation Sans, Arial, sans-serif">
<!-- status pill -->
<path d="M213.35 4.7 H220 V17.2 H213.35 A6.25 6.25 0 0 1 213.35 4.7Z" fill="#1b3f41"/>
<path d="M220 4.7 H226.75 A6.25 6.25 0 0 1 226.75 17.2 H220Z" fill="#6a1f3e"/>
<circle cx="214.6" cy="11" r="2.5" fill="#20b08f"/>
<path d="M224.4 9.9 H228.2 M224.4 12.2 H228.2" stroke="#e8336d" stroke-width="1" fill="none"/>
<!-- badges -->
<rect x="6.4" y="23.1" width="38.4" height="15" rx="2.2" fill="none" stroke="#d93a48" stroke-width="1"/>
<rect x="65.6" y="23.1" width="38.4" height="15" rx="2.2" fill="none" stroke="#2a52cf" stroke-width="1"/>
<text x="6.2" y="15" font-size="10.9" textLength="46" lengthAdjust="spacingAndGlyphs" fill="#d4d6dd" stroke="#d4d6dd" stroke-width="0.3">Australian</text>
<text x="56.1" y="15" font-size="10.9" textLength="26.7" lengthAdjust="spacingAndGlyphs" fill="#d4d6dd" stroke="#d4d6dd" stroke-width="0.3">Dollar</text>
<text x="88.9" y="15" font-size="10.9" textLength="3.1" lengthAdjust="spacingAndGlyphs" fill="#d4d6dd" stroke="#d4d6dd" stroke-width="0.3">/</text>
<text x="95.5" y="15" font-size="10.9" textLength="17.9" lengthAdjust="spacingAndGlyphs" fill="#d4d6dd" stroke="#d4d6dd" stroke-width="0.3">U.S.</text>
<text x="118.1" y="15" font-size="10.9" textLength="25.7" lengthAdjust="spacingAndGlyphs" fill="#d4d6dd" stroke="#d4d6dd" stroke-width="0.3">Dollar</text>
<text x="147.3" y="15" font-size="10.9" textLength="2.6" lengthAdjust="spacingAndGlyphs" fill="#d4d6dd" stroke="#d4d6dd" stroke-width="0.3">·</text>
<text x="154.3" y="15" font-size="10.9" textLength="10.1" lengthAdjust="spacingAndGlyphs" fill="#d4d6dd" stroke="#d4d6dd" stroke-width="0.3">1D</text>
<text x="167.1" y="15" font-size="10.9" textLength="2.6" lengthAdjust="spacingAndGlyphs" fill="#d4d6dd" stroke="#d4d6dd" stroke-width="0.3">·</text>
<text x="172.9" y="15" font-size="10.9" textLength="24.6" lengthAdjust="spacingAndGlyphs" fill="#d4d6dd" stroke="#d4d6dd" stroke-width="0.3">FXCM</text>
<text x="243.9" y="14.9" font-size="8.5" textLength="5.1" lengthAdjust="spacingAndGlyphs" fill="#d4d6dd" stroke="#d4d6dd" stroke-width="0.28">O</text>
<text x="250.4" y="14.9" font-size="8.5" textLength="28.7" lengthAdjust="spacingAndGlyphs" fill="#1fa38b" stroke="#1fa38b" stroke-width="0.28">0.67790</text>
<text x="283.7" y="14.9" font-size="8.5" textLength="5" lengthAdjust="spacingAndGlyphs" fill="#d4d6dd" stroke="#d4d6dd" stroke-width="0.28">H</text>
<text x="289.6" y="14.9" font-size="8.5" textLength="28.7" lengthAdjust="spacingAndGlyphs" fill="#1fa38b" stroke="#1fa38b" stroke-width="0.28">0.67847</text>
<text x="323.6" y="14.9" font-size="8.5" textLength="3.3" lengthAdjust="spacingAndGlyphs" fill="#d4d6dd" stroke="#d4d6dd" stroke-width="0.28">L</text>
<text x="328.7" y="14.9" font-size="8.5" textLength="28.5" lengthAdjust="spacingAndGlyphs" fill="#1fa38b" stroke="#1fa38b" stroke-width="0.28">0.67702</text>
<text x="362.2" y="14.9" font-size="8.5" textLength="3.6" lengthAdjust="spacingAndGlyphs" fill="#d4d6dd" stroke="#d4d6dd" stroke-width="0.28">C</text>
<text x="366.8" y="14.9" font-size="8.5" textLength="29.9" lengthAdjust="spacingAndGlyphs" fill="#1fa38b" stroke="#1fa38b" stroke-width="0.28">0.67847</text>
<text x="402.2" y="14.9" font-size="8.5" textLength="32.3" lengthAdjust="spacingAndGlyphs" fill="#1fa38b" stroke="#1fa38b" stroke-width="0.28">+0.00057</text>
<text x="438.1" y="14.9" font-size="8.5" textLength="31.1" lengthAdjust="spacingAndGlyphs" fill="#1fa38b" stroke="#1fa38b" stroke-width="0.28">(+0.08%)</text>
<text x="10.5" y="33.5" font-size="8.6" textLength="24.8" lengthAdjust="spacingAndGlyphs" fill="#ea4558" stroke="#ea4558" stroke-width="0.28">0.6784</text>
<text x="35.5" y="32.3" font-size="7.2" textLength="3.2" lengthAdjust="spacingAndGlyphs" fill="#ea4558" stroke="#ea4558" stroke-width="0.28">6</text>
<text x="49.9" y="33.3" font-size="7.4" textLength="9" lengthAdjust="spacingAndGlyphs" fill="#c9ccd3" stroke="#c9ccd3" stroke-width="0.28">0.1</text>
<text x="70" y="33.5" font-size="8.6" textLength="24.8" lengthAdjust="spacingAndGlyphs" fill="#3b68e6" stroke="#3b68e6" stroke-width="0.28">0.6784</text>
<text x="95" y="32.3" font-size="7.2" textLength="3.4" lengthAdjust="spacingAndGlyphs" fill="#3b68e6" stroke="#3b68e6" stroke-width="0.28">7</text>
<text x="6.2" y="52.9" font-size="8.8" textLength="10.5" lengthAdjust="spacingAndGlyphs" fill="#d4d6dd" stroke="#d4d6dd" stroke-width="0.28">Vol</text>
<text x="26.6" y="52.9" font-size="8.6" textLength="25.3" lengthAdjust="spacingAndGlyphs" fill="#1fa38b" stroke="#1fa38b" stroke-width="0.28">6.076K</text>
<text x="325.1" y="35.35" font-size="13" textLength="91.4" lengthAdjust="spacingAndGlyphs" fill="#ffffff" stroke="#ffffff" stroke-width="0.28">www.nehcap.com</text>
<text x="673.6" y="16.25" font-size="8.3" textLength="27.2" lengthAdjust="spacingAndGlyphs" fill="#b4b7c0" stroke="#b4b7c0" stroke-width="0.28">0.72500</text>
<text x="673.6" y="40.31" font-size="8.3" textLength="27.2" lengthAdjust="spacingAndGlyphs" fill="#b4b7c0" stroke="#b4b7c0" stroke-width="0.28">0.72000</text>
<text x="673.6" y="64.38" font-size="8.3" textLength="27.2" lengthAdjust="spacingAndGlyphs" fill="#b4b7c0" stroke="#b4b7c0" stroke-width="0.28">0.71500</text>
<text x="673.6" y="88.45" font-size="8.3" textLength="27.2" lengthAdjust="spacingAndGlyphs" fill="#b4b7c0" stroke="#b4b7c0" stroke-width="0.28">0.71000</text>
<text x="673.6" y="112.51" font-size="8.3" textLength="27.2" lengthAdjust="spacingAndGlyphs" fill="#b4b7c0" stroke="#b4b7c0" stroke-width="0.28">0.70500</text>
<text x="673.6" y="136.58" font-size="8.3" textLength="27.2" lengthAdjust="spacingAndGlyphs" fill="#b4b7c0" stroke="#b4b7c0" stroke-width="0.28">0.70000</text>
<text x="673.6" y="160.64" font-size="8.3" textLength="27.2" lengthAdjust="spacingAndGlyphs" fill="#b4b7c0" stroke="#b4b7c0" stroke-width="0.28">0.69500</text>
<text x="673.6" y="184.71" font-size="8.3" textLength="27.2" lengthAdjust="spacingAndGlyphs" fill="#b4b7c0" stroke="#b4b7c0" stroke-width="0.28">0.69000</text>
<text x="673.6" y="208.77" font-size="8.3" textLength="27.2" lengthAdjust="spacingAndGlyphs" fill="#b4b7c0" stroke="#b4b7c0" stroke-width="0.28">0.68500</text>
<text x="673.6" y="232.84" font-size="8.3" textLength="27.2" lengthAdjust="spacingAndGlyphs" fill="#b4b7c0" stroke="#b4b7c0" stroke-width="0.28">0.68000</text>
<text x="673.6" y="256.9" font-size="8.3" textLength="27.2" lengthAdjust="spacingAndGlyphs" fill="#b4b7c0" stroke="#b4b7c0" stroke-width="0.28">0.67500</text>
<text x="673.6" y="280.97" font-size="8.3" textLength="27.2" lengthAdjust="spacingAndGlyphs" fill="#b4b7c0" stroke="#b4b7c0" stroke-width="0.28">0.67000</text>
<text x="673.6" y="305.03" font-size="8.3" textLength="27.2" lengthAdjust="spacingAndGlyphs" fill="#b4b7c0" stroke="#b4b7c0" stroke-width="0.28">0.66500</text>
<text x="673.6" y="329.1" font-size="8.3" textLength="27.2" lengthAdjust="spacingAndGlyphs" fill="#b4b7c0" stroke="#b4b7c0" stroke-width="0.28">0.66000</text>
<text x="673.6" y="353.16" font-size="8.3" textLength="27.2" lengthAdjust="spacingAndGlyphs" fill="#b4b7c0" stroke="#b4b7c0" stroke-width="0.28">0.65500</text>
<text x="673.6" y="377.23" font-size="8.3" textLength="27.2" lengthAdjust="spacingAndGlyphs" fill="#b4b7c0" stroke="#b4b7c0" stroke-width="0.28">0.65000</text>
<text x="673.6" y="401.29" font-size="8.3" textLength="27.2" lengthAdjust="spacingAndGlyphs" fill="#b4b7c0" stroke="#b4b7c0" stroke-width="0.28">0.64500</text>
<text x="673.6" y="425.36" font-size="8.3" textLength="27.2" lengthAdjust="spacingAndGlyphs" fill="#b4b7c0" stroke="#b4b7c0" stroke-width="0.28">0.64000</text>
<text x="673.6" y="449.42" font-size="8.3" textLength="27.2" lengthAdjust="spacingAndGlyphs" fill="#b4b7c0" stroke="#b4b7c0" stroke-width="0.28">0.63500</text>
<text x="673.6" y="473.49" font-size="8.3" textLength="27.2" lengthAdjust="spacingAndGlyphs" fill="#b4b7c0" stroke="#b4b7c0" stroke-width="0.28">0.63000</text>
<text x="673.6" y="497.55" font-size="8.3" textLength="27.2" lengthAdjust="spacingAndGlyphs" fill="#b4b7c0" stroke="#b4b7c0" stroke-width="0.28">0.62500</text>
<text x="673.6" y="521.62" font-size="8.3" textLength="27.2" lengthAdjust="spacingAndGlyphs" fill="#b4b7c0" stroke="#b4b7c0" stroke-width="0.28">0.62000</text>
<text x="673.6" y="545.68" font-size="8.3" textLength="27.2" lengthAdjust="spacingAndGlyphs" fill="#b4b7c0" stroke="#b4b7c0" stroke-width="0.28">0.61500</text>
<text x="673.6" y="569.75" font-size="8.3" textLength="27.2" lengthAdjust="spacingAndGlyphs" fill="#b4b7c0" stroke="#b4b7c0" stroke-width="0.28">0.61000</text>
<text x="5.9" y="593" font-size="8.0" textLength="11.1" lengthAdjust="spacingAndGlyphs" fill="#b4b7c0" stroke="#b4b7c0" stroke-width="0.28">Oct</text>
<text x="87.1" y="593" font-size="8.0" textLength="12.4" lengthAdjust="spacingAndGlyphs" fill="#b4b7c0" stroke="#b4b7c0" stroke-width="0.28">Nov</text>
<text x="173" y="593" font-size="8.0" textLength="12.4" lengthAdjust="spacingAndGlyphs" fill="#b4b7c0" stroke="#b4b7c0" stroke-width="0.28">Dec</text>
<text x="345" y="593" font-size="8.0" textLength="12.4" lengthAdjust="spacingAndGlyphs" fill="#b4b7c0" stroke="#b4b7c0" stroke-width="0.28">Feb</text>
<text x="422.3" y="593" font-size="8.0" textLength="12.4" lengthAdjust="spacingAndGlyphs" fill="#b4b7c0" stroke="#b4b7c0" stroke-width="0.28">Mar</text>
<text x="512.2" y="593" font-size="8.0" textLength="12.4" lengthAdjust="spacingAndGlyphs" fill="#b4b7c0" stroke="#b4b7c0" stroke-width="0.28">Apr</text>
<text x="589.6" y="593" font-size="8.0" textLength="14" lengthAdjust="spacingAndGlyphs" fill="#b4b7c0" stroke="#b4b7c0" stroke-width="0.28">May</text>
<text x="651.3" y="593" font-size="8.0" textLength="7.6" lengthAdjust="spacingAndGlyphs" fill="#b4b7c0" stroke="#b4b7c0" stroke-width="0.28">22</text>
<text x="256" y="593" font-size="8.0" textLength="17.7" lengthAdjust="spacingAndGlyphs" fill="#e4e6ec" font-weight="bold" stroke="#e4e6ec" stroke-width="0.28">2023</text>
<!-- price label -->
<rect x="667.9" y="232.2" width="39.4" height="21.1" rx="1" fill="#129e82"/>
<rect x="668.1" y="569.9" width="32.6" height="11" rx="0.8" fill="#22a797"/>
<text x="673.7" y="241.6" font-size="8.1" textLength="27" lengthAdjust="spacingAndGlyphs" fill="#f2fffb" stroke="#f2fffb" stroke-width="0.28">0.67847</text>
<text x="673.7" y="251.5" font-size="7.8" textLength="30" lengthAdjust="spacingAndGlyphs" fill="#dff7f0" stroke="#dff7f0" stroke-width="0.1">20:57:50</text>
<text x="673.9" y="578.9" font-size="8.2" textLength="22.8" lengthAdjust="spacingAndGlyphs" fill="#f2fffb" stroke="#f2fffb" stroke-width="0.28">6.076K</text>
<!-- tradingview logo -->
<g transform="translate(6,558)">
<g stroke="#161a25" stroke-width="1.8" stroke-linejoin="round" fill="#fff">
<path d="M2 2.7 H10 V13.6 H5.9 V6.7 H2Z"/><circle cx="12.6" cy="4.7" r="2"/><path d="M16.2 2.7 H21.2 L16.7 13.6 H11.7Z"/>
</g>
<g fill="#fff"><path d="M2 2.7 H10 V13.6 H5.9 V6.7 H2Z"/><circle cx="12.6" cy="4.7" r="2"/><path d="M16.2 2.7 H21.2 L16.7 13.6 H11.7Z"/></g>
</g>
<text x="32.1" y="571.3" font-size="14.2" textLength="77.8" lengthAdjust="spacingAndGlyphs" fill="#fff" stroke="#161a25" stroke-width="2.2" stroke-linejoin="round">TradingView</text>
<text x="32.1" y="571.3" font-size="14.2" textLength="77.8" lengthAdjust="spacingAndGlyphs" fill="#fff" stroke="#fff" stroke-width="0.45">TradingView</text>
<!-- event icons -->
<circle cx="627.8" cy="538" r="6.2" fill="#1f1a30" stroke="#a352c4" stroke-width="1.2"/>
<path d="M630 534.2 L624.9 538.7 L627.9 538.7 L625.7 542 L630.8 537.4 L627.8 537.4Z" fill="#b45ad8"/>
<g>
<circle cx="640" cy="554.5" r="7.25" fill="#161a25"/>
<circle cx="640" cy="554.5" r="5.95" fill="#1c3f9e" stroke="#e63946" stroke-width="1.15"/>
<path d="M635.2 551.2 L640 554.5 M640 550 L636 553.8" stroke="#f2c9cf" stroke-width="1.3"/>
<path d="M635.6 551.6 L639.4 554.2" stroke="#e8414d" stroke-width="0.6"/>
<circle cx="642.6" cy="552.6" r="0.6" fill="#fff"/><circle cx="643.4" cy="555.6" r="0.6" fill="#fff"/><circle cx="641.2" cy="557.6" r="0.6" fill="#fff"/><circle cx="637.6" cy="557" r="0.8" fill="#fff"/>
</g>
<g>
<circle cx="627.5" cy="554.5" r="7.25" fill="#161a25"/>
<circle cx="627.5" cy="554.5" r="5.95" fill="#1c3f9e" stroke="#e63946" stroke-width="1.15"/>
<path d="M622.7 551.2 L627.5 554.5 M627.5 550 L623.5 553.8" stroke="#f2c9cf" stroke-width="1.3"/>
<path d="M623.1 551.6 L626.9 554.2" stroke="#e8414d" stroke-width="0.6"/>
<circle cx="630.1" cy="552.6" r="0.6" fill="#fff"/><circle cx="630.9" cy="555.6" r="0.6" fill="#fff"/><circle cx="628.7" cy="557.6" r="0.6" fill="#fff"/><circle cx="625.1" cy="557" r="0.8" fill="#fff"/>
</g>
<g>
<circle cx="640.5" cy="571.5" r="7.25" fill="#161a25"/>
<circle cx="640.5" cy="571.5" r="5.95" fill="#f4e4e6"/>
<path d="M635 569.3 H646 M634.8 572 H646.2 M635.4 574.6 H645.6" stroke="#e8525c" stroke-width="1.2"/>
<path d="M635.2 568.6 A5.9 5.9 0 0 1 640 565.7 V571 H634.7Z" fill="#3f5fb8"/>
<circle cx="640.5" cy="571.5" r="5.95" fill="none" stroke="#e63946" stroke-width="1.15"/>
</g>
<g>
<circle cx="631.9" cy="571.5" r="7.25" fill="#161a25"/>
<circle cx="631.9" cy="571.5" r="5.95" fill="#f4e4e6"/>
<path d="M626.4 569.3 H637.4 M626.2 572 H637.6 M626.8 574.6 H637" stroke="#e8525c" stroke-width="1.2"/>
<circle cx="631.9" cy="571.5" r="5.95" fill="none" stroke="#e63946" stroke-width="1.15"/>
</g>
<g>
<circle cx="627.5" cy="571.5" r="7.25" fill="#161a25"/>
<circle cx="627.5" cy="571.5" r="5.95" fill="#f4e4e6"/>
<path d="M622 569.3 H633 M621.8 572 H633.2 M622.4 574.6 H632.6" stroke="#e8525c" stroke-width="1.2"/>
<path d="M622.2 568.6 A5.9 5.9 0 0 1 627.5 565.7 V571.4 H621.7Z" fill="#3f5fb8"/>
<path d="M623 568.4 H627 M622.6 570 H627" stroke="#9db0e6" stroke-width="0.5" stroke-dasharray="0.6 0.6"/>
<circle cx="627.5" cy="571.5" r="5.95" fill="none" stroke="#e63946" stroke-width="1.15"/>
</g>
<!-- settings gear -->
<g fill="none" stroke="#a4a7b1" stroke-width="0.9" stroke-linejoin="round">
<circle cx="689.5" cy="590.6" r="2.7"/>
<path d="M689.5 585.8 l1.1 1.9 h-2.2z M689.5 595.4 l1.1 -1.9 h-2.2z M684.7 590.6 l1.9 1.1 v-2.2z M694.3 590.6 l-1.9 1.1 v-2.2z M686.1 587.2 l2.1 0.55 l-1.55 1.55z M692.9 587.2 l-2.1 0.55 l1.55 1.55z M686.1 594 l2.1 -0.55 l-1.55 -1.55z M692.9 594 l-2.1 -0.55 l1.55 -1.55z" fill="#a4a7b1" stroke="none"/>
</g>
</svg>
</body></html>
